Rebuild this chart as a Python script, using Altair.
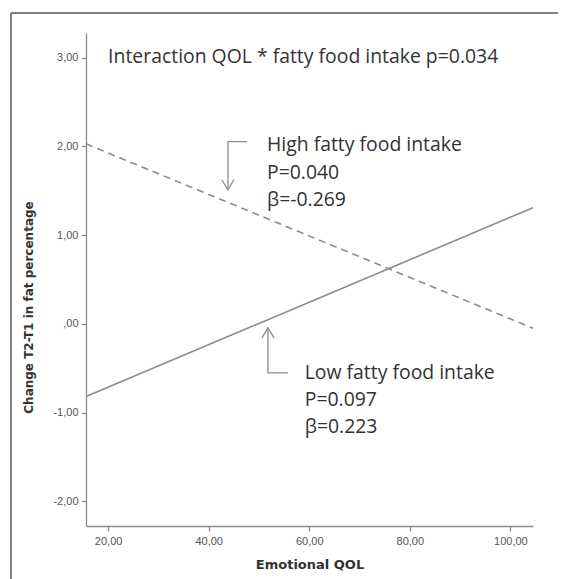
import altair as alt
import pandas as pd

# Regression lines
qol_ends = [15.6, 104.5]
high_vals = [2.03, -0.05]
low_vals = [-0.82, 1.31]

x_ticks = [20, 40, 60, 80, 100]
y_ticks = [-2, -1, 0, 1, 2, 3]

title_text = "Interaction QOL * fatty food intake p=0.034"
high_lines = ["High fatty food intake", "P=0.040", "\u03b2=-0.269"]
low_lines = ["Low fatty food intake", "P=0.097", "\u03b2=0.223"]

# annotation anchor positions in data units
title_pos = (20.0, 3.01)
high_text_x = 51.6
high_text_y = [2.02, 1.70, 1.40]
low_text_x = 59.1
low_text_y = [-0.553, -0.858, -1.163]

# arrow paths (data units)
high_arrow_x = [47.6, 43.83, 43.83]
high_arrow_y = [2.054, 2.054, 1.512]
high_head_x = [42.6, 43.83, 45.0]
high_head_y = [1.625, 1.512, 1.625]
low_arrow_x = [55.76, 51.78, 51.78]
low_arrow_y = [-0.553, -0.553, -0.045]
low_head_x = [50.6, 51.78, 53.0]
low_head_y = [-0.158, -0.045, -0.158]

XD = [15.6, 104.5]
YD = [-2.28, 3.28]
GRAY = "#8c8c8c"
TXT = "#333333"

lines = pd.DataFrame({
    "qol": qol_ends * 2,
    "chg": high_vals + low_vals,
    "grp": ["High"] * 2 + ["Low"] * 2,
})

xs = alt.Scale(domain=XD, nice=False, zero=False)
ys = alt.Scale(domain=YD, nice=False, zero=False)

fmt_x = "replace(format(datum.value, '.2f'), '.', ',')"
fmt_y = ("datum.value == 0 ? ',00' : (datum.value < 0 ? '-' : '') + "
         "replace(format(abs(datum.value), '.2f'), '.', ',')")

high = alt.Chart(lines[lines.grp == "High"]).mark_line(
    color=GRAY, strokeWidth=1.6, strokeDash=[7, 5]
).encode(
    x=alt.X("qol:Q", scale=xs, title="Emotional QOL",
            axis=alt.Axis(values=x_ticks, labelExpr=fmt_x, grid=False)),
    y=alt.Y("chg:Q", scale=ys, title="Change T2-T1 in fat percentage",
            axis=alt.Axis(values=y_ticks, labelExpr=fmt_y, grid=False,
                          titleX=-58, titleY=274, titleBaseline="middle")),
)
low = alt.Chart(lines[lines.grp == "Low"]).mark_line(
    color=GRAY, strokeWidth=1.6
).encode(x=alt.X("qol:Q", scale=xs), y=alt.Y("chg:Q", scale=ys))


def path(xv, yv, name):
    df = pd.DataFrame({"qol": xv, "chg": yv, "o": list(range(len(xv))), "n": name})
    return alt.Chart(df).mark_line(color=GRAY, strokeWidth=1.3).encode(
        x=alt.X("qol:Q", scale=xs), y=alt.Y("chg:Q", scale=ys), order="o:O")


arrows = (path(high_arrow_x, high_arrow_y, "a") + path(high_head_x, high_head_y, "b")
          + path(low_arrow_x, low_arrow_y, "c") + path(low_head_x, low_head_y, "d"))

texts_df = pd.DataFrame({
    "qol": [title_pos[0]] + [high_text_x] * 3 + [low_text_x] * 3,
    "chg": [title_pos[1]] + high_text_y + low_text_y,
    "t": [title_text] + high_lines + low_lines,
})
texts = alt.Chart(texts_df).mark_text(
    align="left", baseline="middle", font="Open Sans", fontSize=19.4, color=TXT
).encode(x=alt.X("qol:Q", scale=xs), y=alt.Y("chg:Q", scale=ys), text="t:N")

frame_v = alt.Chart().mark_rule(color="#555555", strokeWidth=1.5).encode(
    x=alt.value(-75), y=alt.value(-20), y2=alt.value(700))
frame_h = alt.Chart().mark_rule(color="#555555", strokeWidth=1.5).encode(
    x=alt.value(-75), x2=alt.value(700), y=alt.value(-20))

chart = alt.layer(high, low, arrows, texts, frame_v, frame_h).properties(
    width=447, height=493,
    autosize=alt.AutoSizeParams(type="none"),
    padding={"left": 78, "top": 25, "right": 25, "bottom": 53},
).configure_view(stroke=None).configure_axis(
    domainColor=GRAY, domainWidth=1.3, tickColor=GRAY, tickSize=5, tickWidth=1.3,
    labelFont="Liberation Sans", labelFontSize=11, labelColor="#555555",
    titleFont="DejaVu Sans", titleFontSize=12, titleFontWeight="bold", titleColor=TXT,
).configure_axisX(labelPadding=4, titlePadding=12, titleFontSize=13).configure_axisY(labelPadding=3)

chart.save("out.html", embed_options={"renderer": "svg", "actions": False})
